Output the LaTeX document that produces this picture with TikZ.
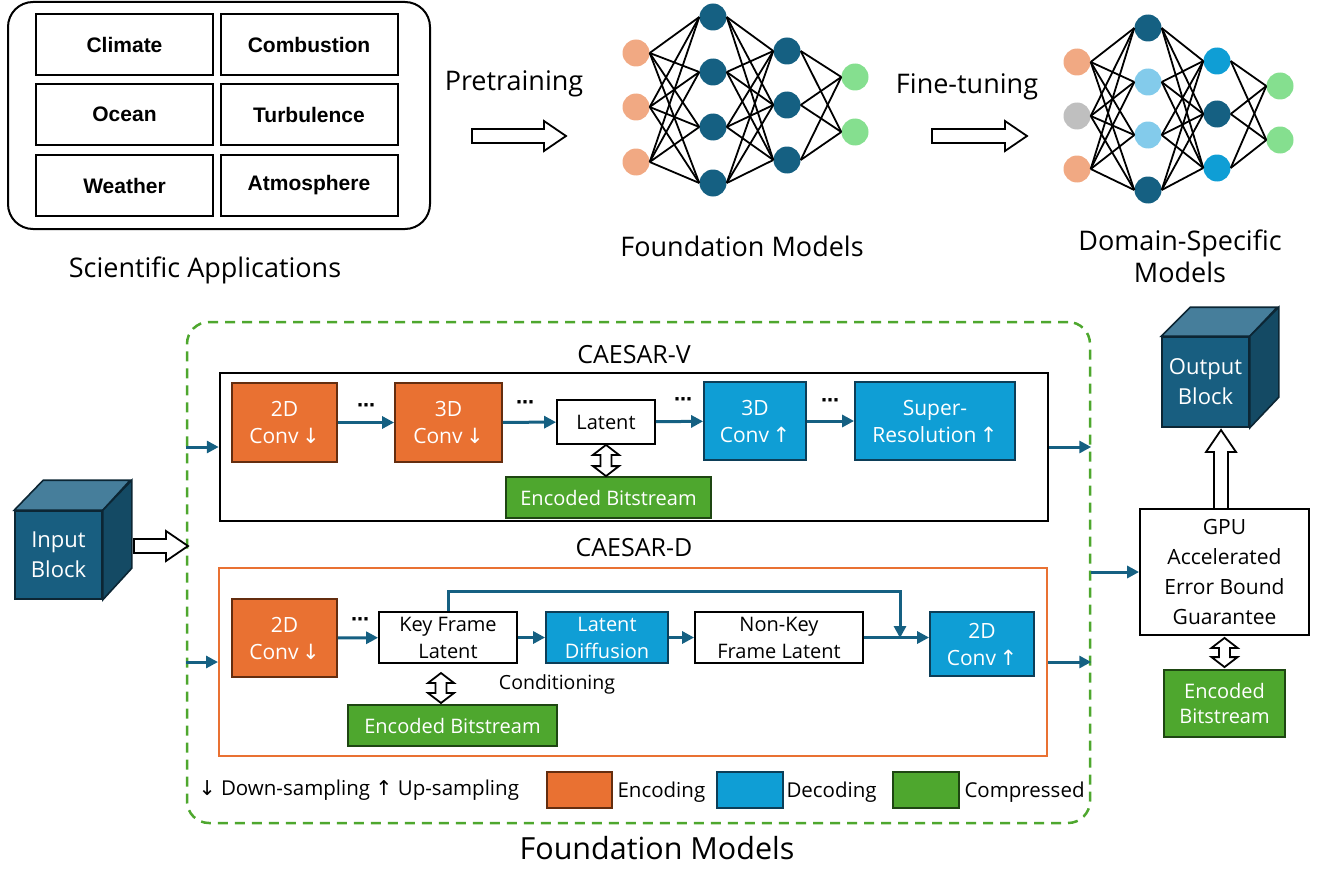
\documentclass[tikz,border=0pt]{standalone}
\usepackage{fontspec}
\setmainfont{Open Sans}
\newfontfamily\appfont{Liberation Sans}
\newfontfamily\symfont{DejaVu Sans}
\usepackage{tikz}
\usetikzlibrary{arrows.meta, calc, positioning}
\definecolor{encorange}{RGB}{233, 113, 50}
\definecolor{encbrown}{RGB}{100, 45, 15}
\definecolor{decblue}{RGB}{15, 158, 213}
\definecolor{decnavy}{RGB}{12, 62, 88}
\definecolor{cmpgreen}{RGB}{78, 167, 46}
\definecolor{cmpdark}{RGB}{30, 70, 18}
\definecolor{flowblue}{RGB}{21, 96, 130}
\definecolor{nnorange}{RGB}{241, 169, 131}
\definecolor{nndark}{RGB}{21, 96, 130}
\definecolor{nngreen}{RGB}{133, 223, 143}
\definecolor{nnlight}{RGB}{131, 203, 235}
\definecolor{nngray}{RGB}{191, 191, 191}
\definecolor{nnbright}{RGB}{15, 158, 213}
\definecolor{cubefront}{RGB}{24, 94, 128}
\definecolor{cubetop}{RGB}{70, 126, 155}
\definecolor{cubeside}{RGB}{20, 74, 100}
\definecolor{cubeline}{RGB}{12, 38, 52}
\definecolor{fmgreen}{RGB}{78, 167, 46}
\newcommand{\dnarr}{{\symfont ↓}}
\newcommand{\uparr}{{\symfont ↑}}
\begin{document}
\begin{tikzpicture}[
        x=1pt, y=-1pt,
        appcell/.style={rectangle, draw=black, line width=2pt, minimum width=177pt, minimum height=61pt, font=\appfont\bfseries\fontsize{21}{24}\selectfont},
        label/.style={font=\fontsize{27}{32}\selectfont, align=center},
        neuron/.style={circle, minimum size=27pt, inner sep=0pt},
        syn/.style={line width=1.8pt, draw=black},
        blk/.style={rectangle, line width=1.8pt, align=center, text=white, inner sep=1pt, font=\fontsize{21}{27}\selectfont},
        enc/.style={blk, fill=encorange, draw=encbrown},
        dec/.style={blk, fill=decblue, draw=decnavy},
        cmp/.style={blk, fill=cmpgreen, draw=cmpdark, font=\fontsize{20}{25}\selectfont},
        plainbox/.style={rectangle, draw=black, fill=white, line width=1.8pt, align=center, font=\fontsize{20}{27}\selectfont},
        legtext/.style={anchor=west, font=\fontsize{20.5}{24}\selectfont},
        flow/.style={-{Triangle[length=12pt,width=12pt]}, line width=3pt, draw=flowblue},
        dots/.style={font=\symfont\bfseries\fontsize{18}{20}\selectfont, inner sep=0pt},
        cube/.style={rectangle, fill=cubefront, draw=cubeline, line width=1.6pt, text=white, align=center, font=\fontsize{22}{30}\selectfont, minimum width=87pt},
        hollow/.style={draw=black, fill=white, line width=1.8pt, line join=miter,
            to path={($(\tikztostart)!7pt!90:(\tikztotarget)$)
                -- ($($(\tikztotarget)!22pt!(\tikztostart)$)!7pt!90:(\tikztotarget)$)
                -- ($($(\tikztotarget)!22pt!(\tikztostart)$)!15pt!90:(\tikztotarget)$)
                -- (\tikztotarget)
                -- ($($(\tikztotarget)!22pt!(\tikztostart)$)!15pt!-90:(\tikztotarget)$)
                -- ($($(\tikztotarget)!22pt!(\tikztostart)$)!7pt!-90:(\tikztotarget)$)
                -- ($(\tikztostart)!7pt!-90:(\tikztotarget)$) -- cycle}},
        hollowdbl/.style={draw=black, fill=white, line width=1.8pt, line join=miter,
            to path={(\tikztostart)
                -- ($($(\tikztostart)!10pt!(\tikztotarget)$)!13pt!90:(\tikztotarget)$)
                -- ($($(\tikztostart)!10pt!(\tikztotarget)$)!5.5pt!90:(\tikztotarget)$)
                -- ($($(\tikztotarget)!10pt!(\tikztostart)$)!5.5pt!90:(\tikztotarget)$)
                -- ($($(\tikztotarget)!10pt!(\tikztostart)$)!13pt!90:(\tikztotarget)$)
                -- (\tikztotarget)
                -- ($($(\tikztotarget)!10pt!(\tikztostart)$)!13pt!-90:(\tikztotarget)$)
                -- ($($(\tikztotarget)!10pt!(\tikztostart)$)!5.5pt!-90:(\tikztotarget)$)
                -- ($($(\tikztostart)!10pt!(\tikztotarget)$)!5.5pt!-90:(\tikztotarget)$)
                -- ($($(\tikztostart)!10pt!(\tikztotarget)$)!13pt!-90:(\tikztotarget)$)
                -- cycle}}
    ]
    \useasboundingbox (0,0) rectangle (1329,888);

    % Scientific applications
    \node[draw=black, line width=2pt, rounded corners=25pt, minimum width=422pt, minimum height=227pt] (apps) at (219,115.5) {};
    \node[appcell] (climate) at (124.5,45) {Climate};
    \node[appcell] (combustion) at (309,45) {Combustion};
    \node[appcell] (ocean) at (124.5,114.5) {Ocean};
    \node[appcell] (turbulence) at (309,114.5) {Turbulence};
    \node[appcell] (weather) at (124.5,185.5) {Weather};
    \node[appcell] (atmosphere) at (309,185.5) {Atmosphere};
    \node[label] (applabel) at (205,270) {Scientific Applications};

    % Pretraining
    \node[label] (pretrain) at (514,84) {Pretraining};
    \coordinate (pre0) at (472,136);
    \coordinate (pre1) at (566,136);
    \draw[hollow] (pre0) to (pre1);

    % Foundation model network
    \foreach \n/\y in {1/53,2/107,3/162} \node[neuron, fill=nnorange] (a\n) at (636,\y) {};
    \foreach \n/\y in {1/17,2/72,3/127,4/183} \node[neuron, fill=nndark] (b\n) at (713,\y) {};
    \foreach \n/\y in {1/51,2/105,3/160} \node[neuron, fill=nndark] (c\n) at (787,\y) {};
    \foreach \n/\y in {1/77,2/132} \node[neuron, fill=nngreen] (d\n) at (855,\y) {};
    \foreach \i in {1,2,3} \foreach \j in {1,...,4} \draw[syn] (a\i.east) -- (b\j.west);
    \foreach \i in {1,...,4} \foreach \j in {1,2,3} \draw[syn] (b\i.east) -- (c\j.west);
    \foreach \i in {1,2,3} \foreach \j in {1,2} \draw[syn] (c\i.east) -- (d\j.west);
    \node[label] (fmtop) at (742,246) {Foundation Models};

    % Fine-tuning
    \node[label] (finetune) at (967,87) {Fine-tuning};
    \coordinate (ft0) at (932,136);
    \coordinate (ft1) at (1027,136);
    \draw[hollow] (ft0) to (ft1);

    % Domain-specific network
    \foreach \n/\y/\c in {1/62/nnorange,2/116/nngray,3/169/nnorange} \node[neuron, fill=\c] (p\n) at (1077,\y) {};
    \foreach \n/\y/\c in {1/28/nndark,2/82/nnlight,3/135/nnlight,4/190/nndark} \node[neuron, fill=\c] (q\n) at (1148,\y) {};
    \foreach \n/\y/\c in {1/61/nnbright,2/114/nndark,3/168/nnbright} \node[neuron, fill=\c] (r\n) at (1217,\y) {};
    \foreach \n/\y in {1/86,2/140} \node[neuron, fill=nngreen] (s\n) at (1280,\y) {};
    \foreach \i in {1,2,3} \foreach \j in {1,...,4} \draw[syn] (p\i.east) -- (q\j.west);
    \foreach \i in {1,...,4} \foreach \j in {1,2,3} \draw[syn] (q\i.east) -- (r\j.west);
    \foreach \i in {1,2,3} \foreach \j in {1,2} \draw[syn] (r\i.east) -- (s\j.west);
    \node[label] (domain) at (1180,256) {Domain-Specific\\Models};

    % Foundation models frame
    \node[draw=fmgreen, line width=2.5pt, dash pattern=on 10pt off 7pt, rounded corners=22pt, minimum width=903pt, minimum height=501pt] (fm) at (638.5,572.5) {};
    \node[label] (fmbottom) at (657,848) {\fontsize{30.5}{34}\selectfont Foundation Models};

    % CAESAR-V
    \node[label, font=\fontsize{25}{30}\selectfont] (vlabel) at (634,355) {CAESAR-V};
    \node[draw=black, line width=2.5pt, minimum width=828pt, minimum height=148pt] (vbox) at (634,447) {};
    \node[enc, minimum width=105pt, minimum height=79pt] (v2d) at (284.5,422.5) {2D\\Conv\,\dnarr};
    \node[enc, minimum width=107pt, minimum height=79pt] (v3d) at (448.5,422.5) {3D\\Conv\,\dnarr};
    \node[plainbox, minimum width=98pt, minimum height=44pt] (vlat) at (606,422) {Latent};
    \node[dec, minimum width=102pt, minimum height=78pt] (v3u) at (755,421) {3D\\Conv\,\uparr};
    \node[dec, minimum width=160pt, minimum height=78pt] (vsr) at (935,421) {Super-\\Resolution\,\uparr};
    \node[cmp, minimum width=205pt, minimum height=41pt] (venc) at (608.5,497.5) {Encoded Bitstream};
    \node[dots] (vdots1) at (366,408) {⋯};
    \node[dots] (vdots2) at (525,405) {⋯};
    \node[dots] (vdots3) at (683,402) {⋯};
    \node[dots] (vdots4) at (830,403) {⋯};
    \draw[flow] (v2d) -- (v3d);
    \draw[flow] (v3d) -- (vlat);
    \draw[flow] (vlat) -- (v3u);
    \draw[flow] (v3u) -- (vsr);
    \draw[hollowdbl] (vlat.south) to (vlat.south |- venc.north);

    % CAESAR-D
    \node[label, font=\fontsize{25}{30}\selectfont] (dlabel) at (634,548) {CAESAR-D};
    \node[draw=encorange, line width=2pt, minimum width=828pt, minimum height=188pt] (dbox) at (633,662) {};
    \node[enc, minimum width=105pt, minimum height=78pt] (d2d) at (284.5,638) {2D\\Conv\,\dnarr};
    \node[plainbox, minimum width=138pt, minimum height=51pt] (dkey) at (448,637.5) {Key Frame\\Latent};
    \node[dec, minimum width=122pt, minimum height=51pt, font=\fontsize{20}{27}\selectfont] (ddiff) at (607,637.5) {Latent\\Diffusion};
    \node[plainbox, minimum width=168pt, minimum height=51pt] (dnon) at (779,637.5) {Non-Key\\Frame Latent};
    \node[dec, minimum width=104pt, minimum height=64pt] (d2u) at (982,644) {2D\\Conv\,\uparr};
    \node[cmp, minimum width=209pt, minimum height=41pt] (denc) at (452.5,725.5) {Encoded Bitstream};
    \node[legtext, anchor=center, font=\fontsize{19.5}{24}\selectfont] (cond) at (557,684) {Conditioning};
    \node[dots] (ddots) at (360,622) {⋯};
    \coordinate (merge) at (900,638);
    \draw[flow] (d2d) -- (dkey);
    \draw[flow] (dkey) -- (ddiff);
    \draw[flow] (ddiff) -- (dnon);
    \draw[flow] (dnon.east) -- (dnon.east -| d2u.west);
    \draw[flow] (dkey.north) -- ++(0,-20) -| (merge);
    \coordinate (dk0) at (441,673);
    \coordinate (dk1) at (441,703);
    \draw[hollowdbl] (dk0) to (dk1);

    % Legend
    \node[legtext] (legarr) at (195,790) {\dnarr\ Down-sampling \uparr\ Up-sampling};
    \node[enc, minimum width=65pt, minimum height=36pt] (legenc) at (579.5,790) {};
    \node[legtext] (legenctext) at (614,792) {Encoding};
    \node[dec, minimum width=66pt, minimum height=36pt] (legdec) at (750,790) {};
    \node[legtext] (legdectext) at (783,792) {Decoding};
    \node[cmp, minimum width=66pt, minimum height=36pt] (legcmp) at (926,790) {};
    \node[legtext] (legcmptext) at (961,792) {Compressed};

    % Input block
    \node[cube, minimum height=88pt] (inblk) at (58.5,555) {Input\\Block};
    \draw[fill=cubetop, draw=cubeline, line width=1.6pt] (inblk.north west) -- ++(29,-30) -- ++(87,0) -- (inblk.north east) -- cycle;
    \draw[fill=cubeside, draw=cubeline, line width=1.6pt] (inblk.north east) -- ++(29,-30) -- ++(0,88) -- (inblk.south east) -- cycle;
    \coordinate (in0) at (134,546);
    \coordinate (in1) at (188,546);
    \draw[hollow] (in0) to (in1);

    % Flows through the frame
    \draw[flow] (vbox.west -| fm.west) -- (vbox.west);
    \draw[flow] (dbox.west -| fm.west) -- (dbox.west);
    \draw[flow] (vbox.east) -- (vbox.east -| fm.east);
    \draw[flow] (dbox.east) -- (dbox.east -| fm.east);

    % Error bound and output
    \node[plainbox, minimum width=169pt, minimum height=126pt, font=\fontsize{21}{30}\selectfont] (gpu) at (1224.5,572) {GPU\\Accelerated\\Error Bound\\Guarantee};
    \draw[flow] (gpu.west -| fm.east) -- (gpu.west);
    \node[cmp, minimum width=121pt, minimum height=67pt] (encr) at (1224.5,703.5) {Encoded\\Bitstream};
    \draw[hollowdbl] ([yshift=-2pt]gpu.south) to ([yshift=2pt]gpu.south |- encr.north);
    \node[cube, minimum height=90pt] (outblk) at (1205.5,382) {Output\\Block};
    \draw[fill=cubetop, draw=cubeline, line width=1.6pt] (outblk.north west) -- ++(29,-29) -- ++(87,0) -- (outblk.north east) -- cycle;
    \draw[fill=cubeside, draw=cubeline, line width=1.6pt] (outblk.north east) -- ++(29,-29) -- ++(0,90) -- (outblk.south east) -- cycle;
    \coordinate (up0) at (1221,509);
    \coordinate (up1) at (1221,430);
    \draw[hollow] (up0) to (up1);

\end{tikzpicture}
\end{document}
